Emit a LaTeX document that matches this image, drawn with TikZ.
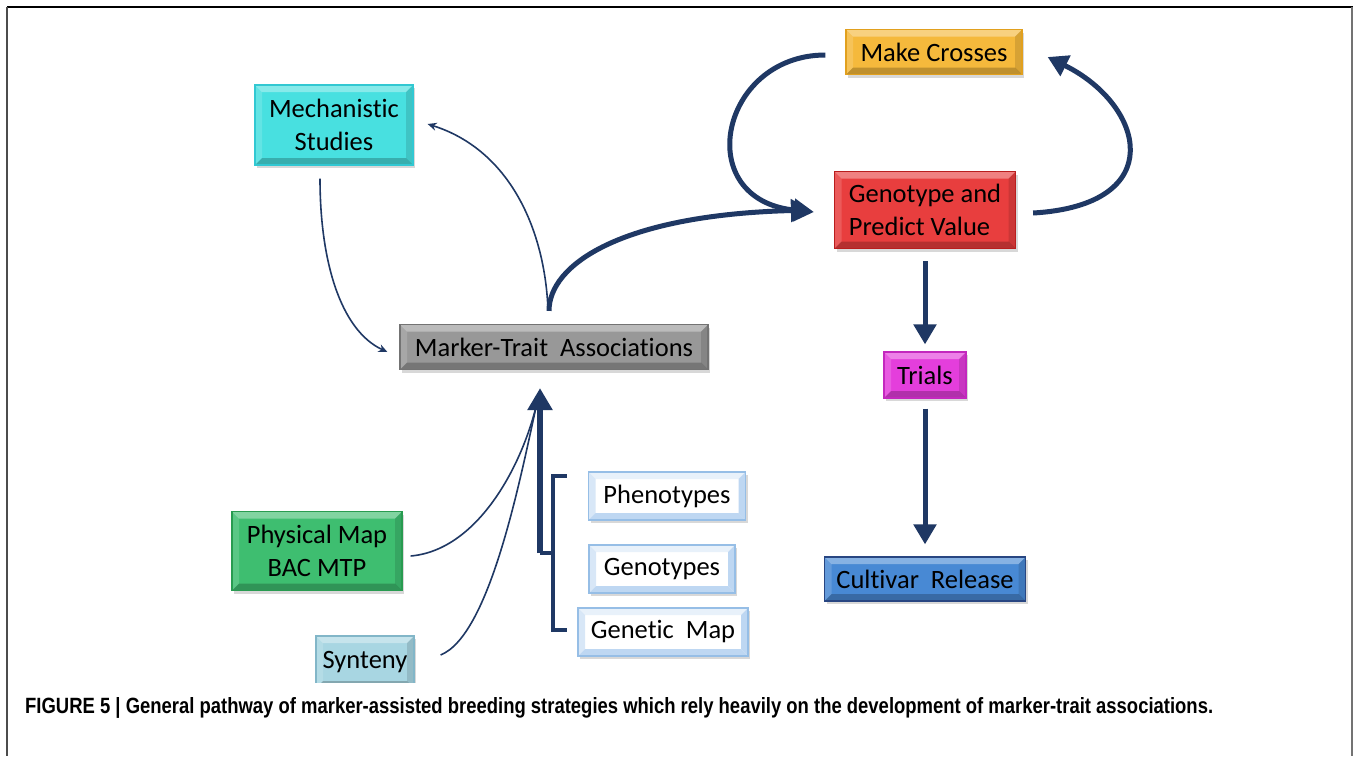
\documentclass[tikz,border=0pt]{standalone}
\usepackage{fontspec}
\setmainfont{Carlito}[Ligatures={NoCommon}]
\newfontfamily\capfont{Liberation Sans}
\usetikzlibrary{arrows.meta,calc,shadows}
\definecolor{navy}{RGB}{31,56,100}
\definecolor{cmech}{RGB}{72,224,224}
\definecolor{bmech}{RGB}{50,200,210}
\definecolor{ccross}{RGB}{245,185,60}
\definecolor{bcross}{RGB}{225,160,30}
\definecolor{cgeno}{RGB}{232,62,62}
\definecolor{bgeno}{RGB}{185,30,30}
\definecolor{cmta}{RGB}{152,152,152}
\definecolor{bmta}{RGB}{115,115,115}
\definecolor{ctrial}{RGB}{228,62,220}
\definecolor{btrial}{RGB}{195,40,190}
\definecolor{ccult}{RGB}{72,137,212}
\definecolor{bcult}{RGB}{40,70,130}
\definecolor{cphys}{RGB}{62,190,112}
\definecolor{bphys}{RGB}{40,155,80}
\definecolor{csyn}{RGB}{168,214,226}
\definecolor{bsyn}{RGB}{130,182,200}
\definecolor{bwhite}{RGB}{150,190,230}
\definecolor{twhite}{RGB}{190,215,242}
\tikzset{
  bevel/.style={path picture={
    \coordinate (pnw) at (path picture bounding box.north west);
    \coordinate (pne) at (path picture bounding box.north east);
    \coordinate (psw) at (path picture bounding box.south west);
    \coordinate (pse) at (path picture bounding box.south east);
    \fill[white,opacity=.35] (pnw) -- (pne) -- ($(pne)+(-7pt,-7pt)$) -- ($(pnw)+(7pt,-7pt)$) -- cycle;
    \fill[white,opacity=.15] (pnw) -- (psw) -- ($(psw)+(7pt,7pt)$) -- ($(pnw)+(7pt,-7pt)$) -- cycle;
    \fill[black,opacity=.12] (pne) -- (pse) -- ($(pse)+(-7pt,7pt)$) -- ($(pne)+(-7pt,-7pt)$) -- cycle;
    \fill[black,opacity=.22] (psw) -- (pse) -- ($(pse)+(-7pt,7pt)$) -- ($(psw)+(7pt,7pt)$) -- cycle;
  }},
  wbevel/.style={path picture={
    \coordinate (pnw) at (path picture bounding box.north west);
    \coordinate (pne) at (path picture bounding box.north east);
    \coordinate (psw) at (path picture bounding box.south west);
    \coordinate (pse) at (path picture bounding box.south east);
    \fill[twhite,opacity=.35] (pnw) -- (pne) -- ($(pne)+(-7pt,-7pt)$) -- ($(pnw)+(7pt,-7pt)$) -- cycle;
    \fill[twhite,opacity=.6] (pnw) -- (psw) -- ($(psw)+(7pt,7pt)$) -- ($(pnw)+(7pt,-7pt)$) -- cycle;
    \fill[twhite] (pne) -- (pse) -- ($(pse)+(-7pt,7pt)$) -- ($(pne)+(-7pt,-7pt)$) -- cycle;
    \fill[twhite] (psw) -- (pse) -- ($(pse)+(-7pt,7pt)$) -- ($(psw)+(7pt,7pt)$) -- cycle;
  }},
  box/.style={draw=#1, line width=1.2pt, font=\fontsize{26.5}{33}\selectfont, inner sep=0pt,
    drop shadow={shadow xshift=2pt,shadow yshift=-3pt,opacity=.3}, bevel},
  wbox/.style={draw=bwhite, fill=white, line width=1.2pt, font=\fontsize{26.5}{33}\selectfont, inner sep=0pt,
    drop shadow={shadow xshift=2pt,shadow yshift=-3pt,opacity=.3}, wbevel},
  thin/.style={draw=navy, line width=1.6pt},
  thinarrow/.style={thin, -{Stealth[length=9pt,width=8pt]}},
  fat/.style={draw=navy, line width=5pt},
  fatarrow/.style={fat, -{Triangle[length=20pt,width=22pt]}},
}
\begin{document}
\begin{tikzpicture}[x=1pt,y=-1pt]
\useasboundingbox (0,0) rectangle (1354,756);
\fill[white] (0,0) rectangle (1354,756);
% frame
\draw[black,line width=2pt] (7,7) -- (1353,7);
\draw[black!70,line width=1.5pt] (7,7) -- (7,756);
\draw[black!55,line width=1.5pt] (1352,7) -- (1352,756);

% nodes
\node[box=bmech, fill=cmech, minimum width=158pt, minimum height=80pt, align=center] (mech) at (334,125) {Mechanistic\\Studies};
\node[box=bcross, fill=ccross, minimum width=176pt, minimum height=45pt] (cross) at (934,52) {Make Crosses};
\node[box=bgeno, fill=cgeno, minimum width=181pt, minimum height=77pt, align=left] (geno) at (925,210) {Genotype and\\Predict Value};
\node[box=bmta, fill=cmta, minimum width=308pt, minimum height=45pt] (mta) at (554,347) {Marker-Trait~ Associations};
\node[box=btrial, fill=ctrial, minimum width=82pt, minimum height=46pt] (trials) at (925,375) {Trials};
\node[box=bcult, fill=ccult, minimum width=201pt, minimum height=44pt] (cult) at (925,579) {Cultivar~ Release};
\node[box=bphys, fill=cphys, minimum width=170pt, minimum height=79pt, align=center] (phys) at (317,551) {Physical Map\\BAC MTP};
\begin{scope}
\clip (0,0) rectangle (1354,682);
\node[box=bsyn, fill=csyn, minimum width=98pt, minimum height=52pt, text depth=0pt] (synt) at (365,662) {\raisebox{4pt}{Synteny}};
\end{scope}
\node[wbox, minimum width=157pt, minimum height=48pt] (phen) at (667,496) {Phenotypes};
\node[wbox, minimum width=146pt, minimum height=48pt] (genos) at (662,569) {Genotypes};
\node[wbox, minimum width=170pt, minimum height=48pt] (genmap) at (663,632) {Genetic~ Map};

% breeding cycle
\draw[fatarrow] ($(cross.west)+(-20,3)$) .. controls (720,55) and (690,200) .. ($(geno.west)+(-20,2)$);
\draw[fatarrow] ($(geno.east)+(17,3)$) .. controls (1170,205) and (1145,105) .. ($(cross.east)+(25,5)$);
\draw[fatarrow] ($(mta.north)+(-5,-13)$) .. controls (549,265) and (620,215) .. ($(geno.west)+(-23,0)$);
\draw[thinarrow] ($(mta.north)+(-6,-14)$) .. controls (545,230) and (510,150) .. ($(mech.east)+(14,-1)$);
\draw[thinarrow] ($(mech.south)+(-14,13)$) .. controls (320,260) and (340,330) .. ($(mta.west)+(-12,5)$);

% vertical flow
\draw[fatarrow] ($(geno.south)+(0,12)$) -- ($(trials.north)+(0,-7)$);
\draw[fatarrow] ($(trials.south)+(0,10)$) -- ($(cult.north)+(0,-12)$);

% inputs
\coordinate (hub) at (540,553);
\coordinate (meet) at (538,398);
\draw[fat, line width=5.5pt, -{Triangle[length=22pt,width=24pt]}] (hub) -- ($(mta.south)+(-14,18)$);
\draw[fat, line width=4.5pt, line join=miter] ($(phen.west)+(-21,-20)$) -| (553,630) -- ($(genmap.west)+(-10,-2)$);
\draw[fat, line width=4.5pt] (hub) -- (553,553);
\draw[thin] ($(phys.east)+(8,5)$) .. controls (480,550) and (525,460) .. (meet);
\draw[thin] ($(synt.east)+(26,-7)$) .. controls (490,635) and (520,480) .. (meet);

% caption
\node[anchor=west, inner sep=0pt] (cap) at (25,708) {\resizebox{1188pt}{16pt}{\capfont\bfseries\fontsize{19}{22}\selectfont FIGURE 5 | General pathway of marker-assisted breeding strategies which rely heavily on the development of marker-trait associations.}};
\end{tikzpicture}
\end{document}
